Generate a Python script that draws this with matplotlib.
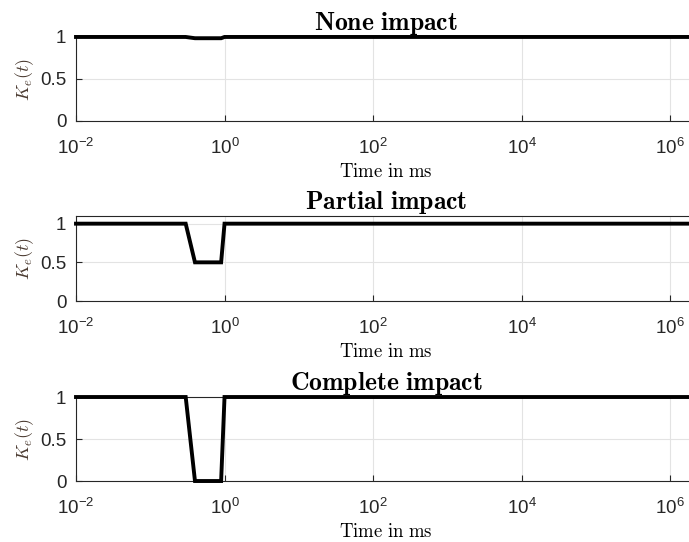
import numpy as np
import matplotlib.pyplot as plt
from matplotlib.ticker import FixedLocator, NullLocator

plt.rcParams['font.family'] = ['Liberation Sans', 'DejaVu Sans']
plt.rcParams['mathtext.fontset'] = 'cm'

# time samples (ms) and effective stiffness K_e(t) for each case
t = [0.01, 0.3, 0.4, 0.9, 1.0, 3e6]
k_none = [1, 1, 0.985, 0.985, 1, 1]
k_partial = [1, 1, 0.5, 0.5, 1, 1]
k_complete = [1, 1, 0.0, 0.0, 1, 1]

titles = ['None impact', 'Partial impact', 'Complete impact']
series = [k_none, k_partial, k_complete]
ytops = [1.0, 1.1, 1.0]
xticks = [1e-2, 1e0, 1e2, 1e4, 1e6]
xticklabels = [r'$\mathregular{10^{-2}}$', r'$\mathregular{10^{0}}$',
               r'$\mathregular{10^{2}}$', r'$\mathregular{10^{4}}$',
               r'$\mathregular{10^{6}}$']

fig = plt.figure(figsize=(6.89, 5.42), dpi=100)
bottoms = [0.7768, 0.4446, 0.1125]
heights = [0.155, 0.157, 0.155]

for title, k, ytop, b, h in zip(titles, series, ytops, bottoms, heights):
    ax = fig.add_axes([0.1103, b, 0.900, h])
    ax.plot(t, k, color='black', lw=2.8, solid_joinstyle='miter',
            clip_on=False, zorder=5)
    ax.set_xscale('log')
    ax.set_xlim(1e-2, 10 ** 6.35)
    ax.set_ylim(0, ytop)
    ax.xaxis.set_major_locator(FixedLocator(xticks))
    ax.xaxis.set_minor_locator(NullLocator())
    ax.set_xticks(xticks)
    ax.set_xticklabels(xticklabels)
    ax.set_yticks([0, 0.5, 1])
    ax.set_yticklabels(['0', '0.5', '1'])
    ax.tick_params(direction='in', length=4, labelsize=13.5, colors='#262626')
    ax.tick_params(axis='x', pad=12)
    ax.tick_params(axis='y', pad=7)
    ax.grid(True, color='#e3e3e3', lw=0.8)
    ax.set_axisbelow(True)
    for sp in ax.spines.values():
        sp.set_color('#262626')
        sp.set_linewidth(0.8)
    ax.set_title(r'$\mathbf{' + title.replace(' ', r'\ ') + '}$',
                 fontsize=18.5, pad=2)
    ax.set_xlabel(r'$\mathrm{Time\ in\ ms}$', fontsize=13.5, labelpad=4)
    ax.set_ylabel(r'$K_e(t)$', fontsize=13, labelpad=3, color='#4a3a30')

fig.savefig('out.png', dpi=100)
